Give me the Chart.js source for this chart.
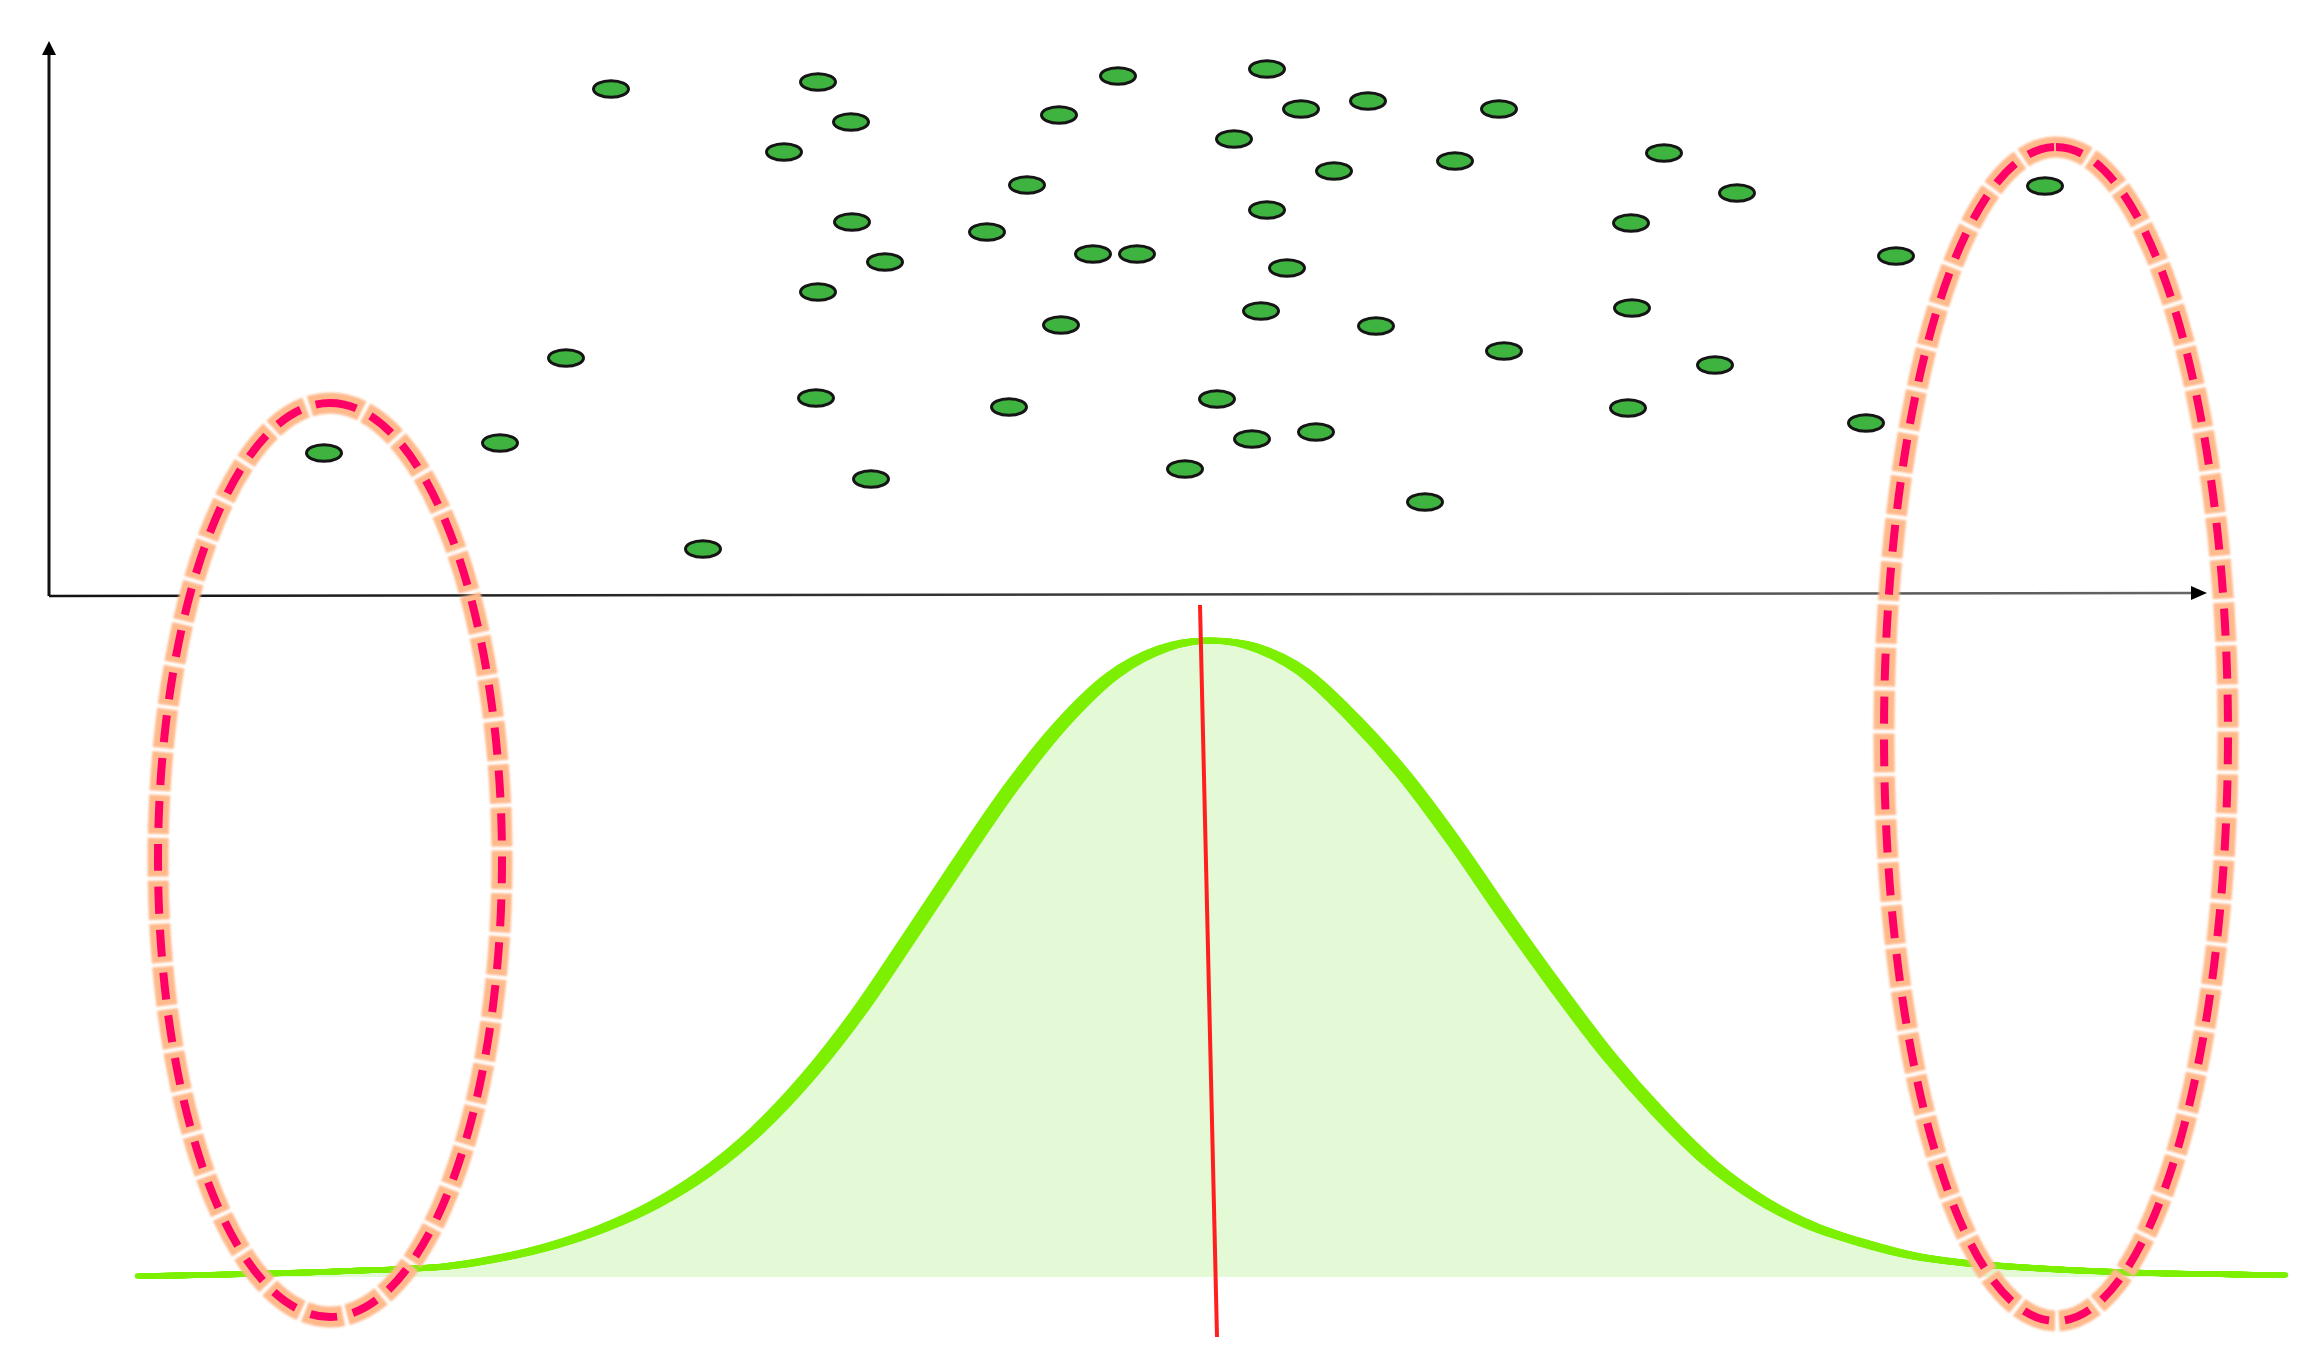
<!DOCTYPE html>
<html>
<head>
<meta charset="utf-8">
<script src="https://cdn.jsdelivr.net/npm/chart.js@4"></script>
<style>
  html, body { margin: 0; padding: 0; background: #fff; }
  canvas { display: block; }
</style>
</head>
<body>
<canvas id="chart" width="2314" height="1371"></canvas>
<script>
// scatter sample: x along the horizontal axis, y above it
const pointX = [28.1, 38.45, 40.1, 36.75, 53.45, 60.9, 50.5, 62.6, 65.95, 72.5,
                59.25, 70.3, 64.25, 48.9, 80.75, 84.4, 99.8, 40.15, 46.9, 60.9,
                79.1, 52.2, 54.4, 41.8, 61.9, 92.35, 38.45, 60.6, 50.6, 66.35,
                79.15, 25.85, 72.75, 83.3, 38.35, 48.0, 58.4, 78.95, 90.85, 13.75,
                22.55, 60.15, 63.35, 41.1, 56.8, 68.8, 32.7];
const pointY = [25.35, 25.7, 23.7, 22.2, 26.0, 26.35, 24.05, 24.35, 24.75, 24.35,
                22.85, 21.75, 21.25, 20.55, 22.15, 20.15, 20.5, 18.7, 18.2, 19.3,
                18.65, 17.1, 17.1, 16.7, 16.4, 17.0, 15.2, 14.25, 13.55, 13.5,
                14.4, 11.9, 12.25, 11.55, 9.9, 9.45, 9.85, 9.4, 8.65, 7.15,
                7.65, 7.85, 8.2, 5.85, 6.35, 4.7, 2.35];

// distribution curve (height above its own baseline)
const curveX = [4.7, 10.05, 15.05, 20.05, 22.6, 25.15, 27.7, 30.25, 32.8, 35.35,
                37.9, 40.45, 43.0, 45.55, 48.1, 50.65, 53.2, 55.75, 57.95, 60.1,
                62.65, 65.2, 67.75, 70.3, 72.85, 75.4, 77.95, 80.5, 83.05, 85.6,
                88.15, 90.7, 93.25, 95.8, 100.05, 105.05, 111.55];
const curveY = [0.05, 0.15, 0.3, 0.55, 0.96, 1.57, 2.44, 3.61, 5.19, 7.28,
                9.96, 13.2, 16.95, 20.78, 24.48, 27.66, 30.09, 31.44, 31.83, 31.55,
                30.3, 27.95, 25.1, 21.7, 18.0, 14.45, 11.1, 8.2, 5.7, 3.85,
                2.55, 1.7, 1.05, 0.7, 0.4, 0.2, 0.1];

// mean marker
const meanX = [57.55, 58.4];
const meanY = [33.6, -3.0];

// highlighted zones at both ends
const zoneX = [14.05, 100.35];
const zoneY = [-13.2, -6.9];
const zoneRx = [8.6, 8.6];
const zoneRy = [22.85, 29.35];

// axis extents
const axisXEnd = 107.9;
const axisXEndY = 0.15;
const axisYEnd = 27.75;

function makeDot() {
    const c = document.createElement('canvas');
    c.width = 42;
    c.height = 22;
    const g = c.getContext('2d');
    g.beginPath();
    g.ellipse(21, 11, 17.5, 8.3, 0, 0, Math.PI * 2);
    g.fillStyle = '#3fb33f';
    g.fill();
    g.lineWidth = 3;
    g.strokeStyle = '#151515';
    g.stroke();
    return c;
}

const axesPlugin = {
    id: 'arrowAxes',
    beforeDatasetsDraw(chart) {
        const { ctx, scales: { x, y } } = chart;
        const x0 = x.getPixelForValue(0), y0 = y.getPixelForValue(0);
        const xEnd = x.getPixelForValue(axisXEnd), yEndR = y.getPixelForValue(axisXEndY);
        const yTop = y.getPixelForValue(axisYEnd);
        ctx.save();
        // vertical axis
        ctx.strokeStyle = '#111';
        ctx.lineWidth = 3;
        ctx.beginPath();
        ctx.moveTo(x0, y0);
        ctx.lineTo(x0, yTop + 10);
        ctx.stroke();
        ctx.fillStyle = '#000';
        ctx.beginPath();
        ctx.moveTo(x0, yTop);
        ctx.lineTo(x0 - 7, yTop + 14);
        ctx.lineTo(x0 + 7, yTop + 14);
        ctx.closePath();
        ctx.fill();
        // horizontal axis, fading to grey
        const grad = ctx.createLinearGradient(x0, 0, xEnd, 0);
        grad.addColorStop(0, '#111');
        grad.addColorStop(1, '#666');
        ctx.strokeStyle = grad;
        ctx.lineWidth = 2.6;
        ctx.beginPath();
        ctx.moveTo(x0, y0);
        ctx.lineTo(xEnd - 10, yEndR);
        ctx.stroke();
        ctx.fillStyle = '#000';
        ctx.beginPath();
        ctx.moveTo(xEnd, yEndR);
        ctx.lineTo(xEnd - 16, yEndR - 7);
        ctx.lineTo(xEnd - 16, yEndR + 7);
        ctx.closePath();
        ctx.fill();
        ctx.restore();
    }
};

// redraw the curve with small sideways shifts: a flat pen, thick on the slopes
const brushPlugin = {
    id: 'brush',
    afterDatasetDraw(chart, args) {
        if (chart.data.datasets[args.index].label !== 'distribution') return;
        const line = args.meta.dataset;
        const ctx = chart.ctx;
        for (let dx = -5.5; dx <= 5.5; dx += 1) {
            ctx.save();
            ctx.translate(dx, 0);
            line.draw(ctx, chart.chartArea);
            ctx.restore();
        }
    }
};

const zonesPlugin = {
    id: 'zones',
    afterDatasetsDraw(chart) {
        const { ctx, scales: { x, y } } = chart;
        zoneX.forEach((cx, i) => {
            const px = x.getPixelForValue(cx);
            const py = y.getPixelForValue(zoneY[i]);
            const rx = Math.abs(x.getPixelForValue(cx + zoneRx[i]) - px);
            const ry = Math.abs(y.getPixelForValue(zoneY[i] + zoneRy[i]) - py);
            ctx.save();
            ctx.beginPath();
            ctx.ellipse(px, py, rx, ry, 0, -Math.PI / 2, Math.PI * 1.5);
            // peach halo round each dash
            ctx.filter = 'blur(1px)';
            ctx.setLineDash([39, 4]);
            ctx.lineDashOffset = 6;
            ctx.lineWidth = 21;
            ctx.strokeStyle = '#ffb98b';
            ctx.stroke();
            ctx.filter = 'none';
            ctx.setLineDash([27, 16]);
            ctx.lineDashOffset = 0;
            ctx.lineWidth = 8;
            ctx.strokeStyle = '#ff0066';
            ctx.stroke();
            ctx.restore();
        });
    }
};

const dot = makeDot();
const curveData = curveX.map((v, i) => ({ x: v, y: curveY[i] }));

new Chart(document.getElementById('chart'), {
    type: 'scatter',
    data: {
        datasets: [
            {
                label: 'sample',
                data: pointX.map((v, i) => ({ x: v, y: pointY[i] })),
                pointStyle: dot,
                pointRadius: 10,
                yAxisID: 'y'
            },
            {
                label: 'mean',
                type: 'line',
                data: meanX.map((v, i) => ({ x: v, y: meanY[i] })),
                borderColor: '#ff1f1f',
                borderWidth: 4,
                pointRadius: 0,
                fill: false,
                yAxisID: 'yd'
            },
            {
                label: 'distribution',
                type: 'line',
                data: curveData,
                borderColor: '#7cf000',
                borderWidth: 5.5,
                borderCapStyle: 'round',
                fill: false,
                pointRadius: 0,
                cubicInterpolationMode: 'monotone',
                yAxisID: 'yd'
            },
            {
                label: 'area',
                type: 'line',
                data: curveData,
                borderWidth: 0,
                borderColor: 'rgba(0,0,0,0)',
                backgroundColor: '#e4f9d6',
                fill: 'origin',
                pointRadius: 0,
                cubicInterpolationMode: 'monotone',
                yAxisID: 'yd'
            }
        ]
    },
    options: {
        responsive: false,
        animation: false,
        layout: { padding: 0, autoPadding: false },
        scales: {
            x: { type: 'linear', min: -2.45, max: 113.25, display: false },
            y: { type: 'linear', min: -38.75, max: 29.8, display: false },
            yd: { type: 'linear', min: -4.7, max: 63.85, display: false }
        },
        plugins: {
            legend: { display: false },
            tooltip: { enabled: false }
        }
    },
    plugins: [axesPlugin, brushPlugin, zonesPlugin]
});
</script>
</body>
</html>
